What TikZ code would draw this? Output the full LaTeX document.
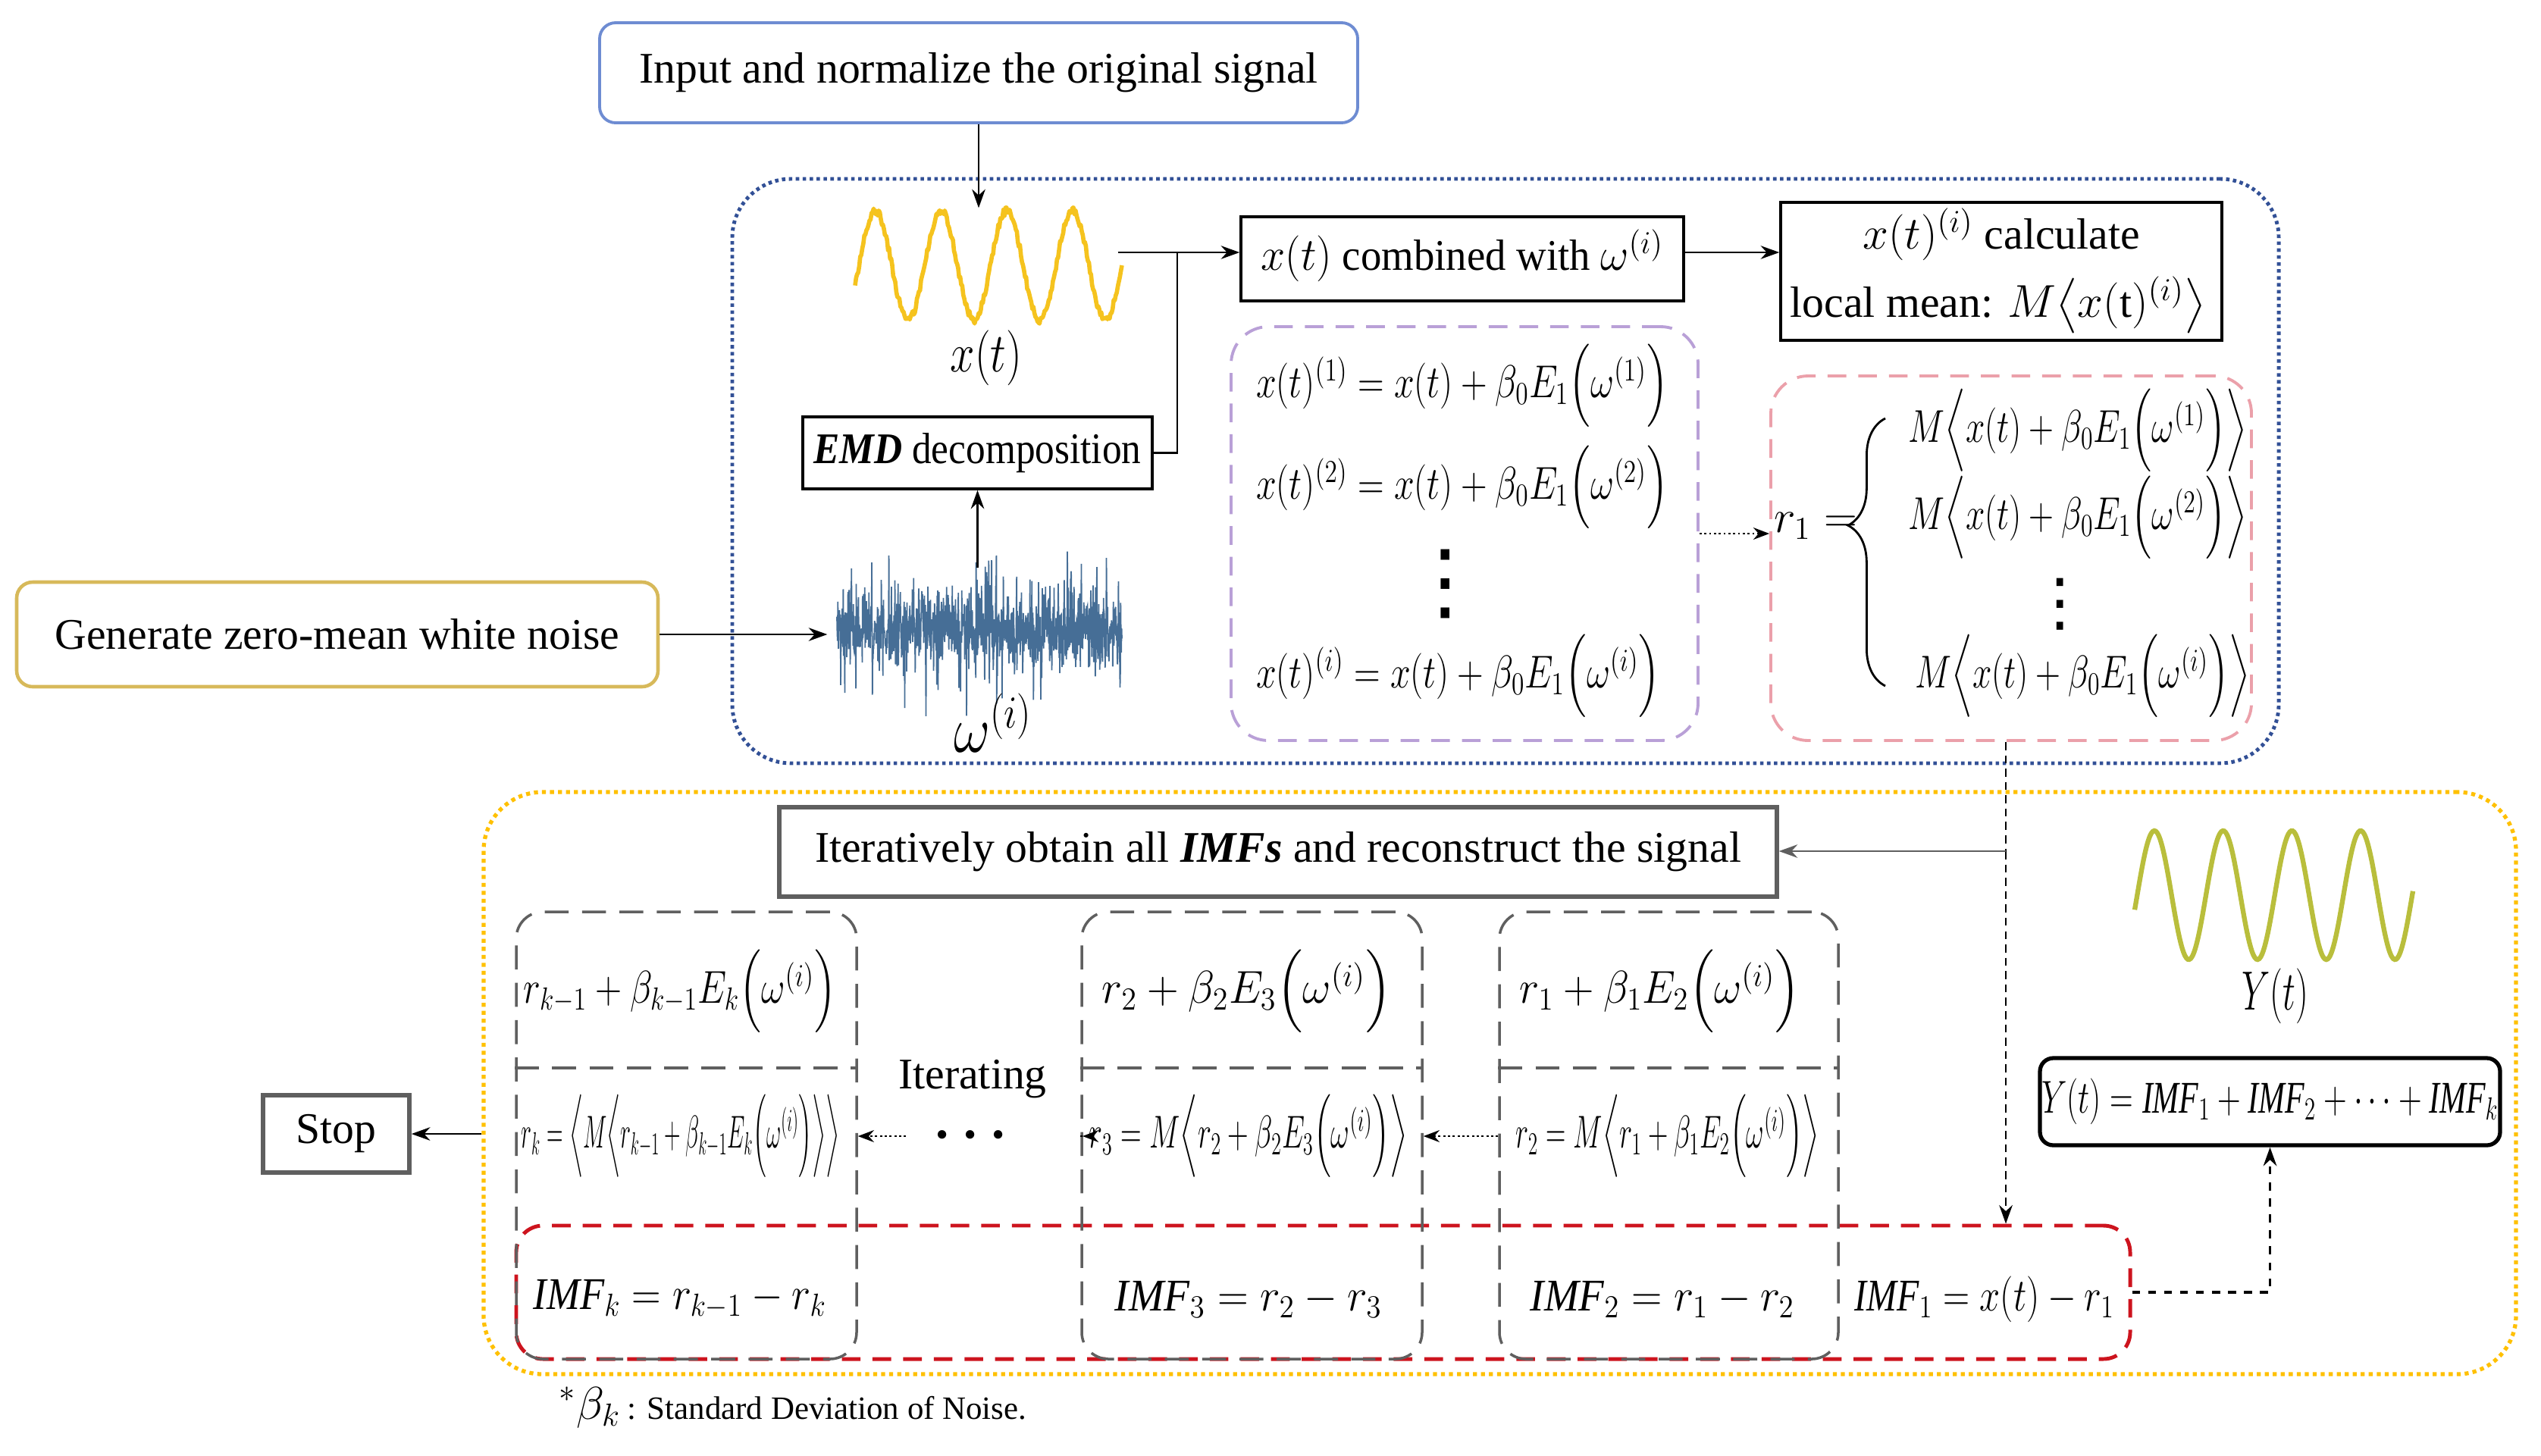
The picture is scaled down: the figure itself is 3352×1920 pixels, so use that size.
\documentclass[tikz,border=0pt]{standalone}
\usepackage{amsmath}
\usepackage{fontspec}
\setmainfont{Liberation Serif}
\newfontfamily\djv{DejaVu Sans}
\usetikzlibrary{arrows.meta,fit,decorations.pathreplacing,calc}
\definecolor{inblue}{RGB}{110,140,210}
\definecolor{dotblue}{RGB}{50,80,150}
\definecolor{gengold}{RGB}{215,185,90}
\definecolor{dotyellow}{RGB}{255,192,0}
\definecolor{purp}{RGB}{185,160,215}
\definecolor{pinkd}{RGB}{235,160,170}
\definecolor{redd}{RGB}{205,20,30}
\definecolor{grayd}{RGB}{95,95,95}
\definecolor{sigyellow}{RGB}{245,195,30}
\definecolor{noiseblue}{RGB}{70,110,150}
\definecolor{olivesig}{RGB}{185,190,60}
\newcommand\txt{\fontsize{16.4}{20}\selectfont}
\newcommand\mth{\fontsize{17}{20}\selectfont}
\newcommand\sq[2]{\scalebox{#1}[1]{#2}}
\tikzset{
  region/.style={inner sep=0pt},
  solidbox/.style={draw, line width=1pt, inner sep=0pt},
  arr/.style={-{Stealth[length=7pt,width=5pt]}, line width=0.7pt},
  dotarr/.style={-{Stealth[length=6pt,width=4.5pt]}, line width=0.8pt, densely dotted},
  coldash/.style={draw=grayd, line width=1pt, dash pattern=on 9pt off 5pt, rounded corners=10pt},
  lbl/.style={font=\txt, inner sep=1pt},
  eq/.style={font=\mth, inner sep=1pt},
}
\begin{document}
\begin{tikzpicture}[x=0.01cm,y=-0.01cm]
\useasboundingbox (0,0) rectangle (3352,1920);
\pgfmathsetseed{7}

% ---------- stage 1 ----------
\node[fit={(791,30)(1791,162)}, region, draw=inblue, line width=1.1pt, rounded corners=6pt] (input) {};
\node[lbl] at (input.center) {Input and normalize the original signal};

\node[fit={(966,236)(3006,1007)}, region, draw=dotblue, line width=1.4pt, dash pattern=on 1.3pt off 1.3pt, rounded corners=22pt] (stageone) {};

% x(t) signal
\node[fit={(1128,275)(1480,428)}, region] (xt) {};
\draw[sigyellow, line width=1.6pt, line join=round]
  plot[domain=1128:1480, samples=260] (\x, {350 - 72*sin(4.1522*(\x-1133)) + 5*rand});
\node[font=\fontsize{20}{22}\selectfont] (xtl) at (1301,472) {\sq{0.8}{$x(t)$}};
\draw[arr] (input.south) -- (input.south |- xt.north);

% noise
\node[fit={(1104,730)(1480,931)}, region] (noise) {};
\draw[noiseblue, line width=0.5pt]
  plot[domain=1104:1480, samples=900] (\x, {832 + 20*(rand+rand+rand) + 75*(rand)^5});
\node[font=\fontsize{23}{26}\selectfont] (wl) at (1310,954) {\sq{0.85}{$\omega^{(i)}$}};

% generate
\node[fit={(22,768)(868,906)}, region, draw=gengold, line width=1.3pt, rounded corners=6pt] (gen) {};
\node[lbl] at (gen.center) {Generate zero-mean white noise};
\draw[arr] (gen.east) -- ($(gen.east -| noise.west)+(-12,0)$);

% EMD
\node[fit={(1059,550)(1520,645)}, solidbox] (emd) {};
\node[lbl] at (emd.center) {\sq{0.89}{\textbf{\textit{EMD}} decomposition}};
\draw[arr] ($(emd.south |- noise.north)+(0,20)$) -- (emd.south);

% combined
\node[fit={(1637,286)(2221,397)}, solidbox] (comb) {};
\node[lbl] at ($(comb.center)+(0,-4)$) {\sq{0.95}{$x(t)$ combined with $\omega^{(i)}$}};
\coordinate (jone) at (1553,333);
\draw[line width=0.7pt] ($(xt.east |- jone)+(-6,0)$) -- (jone);
\draw[line width=0.7pt] (emd.east) -| (jone);
\draw[arr] (jone) -- (jone -| comb.west);

% calculate
\node[fit={(2349,267)(2931,449)}, solidbox] (calc) {};
\node[lbl, inner sep=0pt] (calca) at (2640,309) {$x(t)^{(i)}$ calculate};
\node[lbl, inner sep=0pt] (calcb) at (2636,402) {local mean: $M\bigl\langle x(\mathrm{t})^{(i)}\bigr\rangle$};
\draw[arr] (comb.east |- jone) -- (jone -| calc.west);

% purple box
\node[fit={(1624,431)(2240,977)}, region, draw=purp, line width=1.1pt, dash pattern=on 7pt off 4.5pt, rounded corners=14pt] (purpbox) {};
\node[eq, anchor=west] (pa) at (1653,509) {\sq{0.79}{$x(t)^{(1)} = x(t) + \beta_0 E_1\Bigl(\omega^{(1)}\Bigr)$}};
\node[eq, anchor=west] (pb) at (1653,643) {\sq{0.79}{$x(t)^{(2)} = x(t) + \beta_0 E_1\Bigl(\omega^{(2)}\Bigr)$}};
\node[font=\fontsize{32}{34}\selectfont\djv, inner sep=0pt] (pc) at (1907,770) {⋮};
\node[eq, anchor=west] (pd) at (1653,892) {\sq{0.79}{$x(t)^{(i)} = x(t) + \beta_0 E_1\Bigl(\omega^{(i)}\Bigr)$}};

% pink box
\node[fit={(2336,496)(2970,977)}, region, draw=pinkd, line width=1.1pt, dash pattern=on 7pt off 4.5pt, rounded corners=14pt] (pinkbox) {};
\draw[dotarr] (purpbox.east) -- (purpbox.east -| pinkbox.west);
\node[eq] (rone) at (2395,694) {$r_1 =$};
\draw[line width=0.8pt, decorate, decoration={brace, amplitude=14pt, aspect=0.6}] (2487,905) -- (2487,552);
\node[eq, anchor=west] (ma) at (2513,568) {\sq{0.75}{$M\Bigl\langle x(t)+\beta_0E_1\Bigl(\omega^{(1)}\Bigr)\Bigr\rangle$}};
\node[eq, anchor=west] (mb) at (2513,683) {\sq{0.75}{$M\Bigl\langle x(t)+\beta_0E_1\Bigl(\omega^{(2)}\Bigr)\Bigr\rangle$}};
\node[font=\fontsize{24}{26}\selectfont\djv, inner sep=0pt] (mc) at (2718,797) {⋮};
\node[eq, anchor=west] (md) at (2522,892) {\sq{0.75}{$M\Bigl\langle x(t)+\beta_0E_1\Bigl(\omega^{(i)}\Bigr)\Bigr\rangle$}};

% ---------- stage 2 ----------
\node[fit={(638,1045)(3319,1813)}, region, draw=dotyellow, line width=1.5pt, dash pattern=on 1.5pt off 1.5pt, rounded corners=22pt] (stagetwo) {};

\node[fit={(1028,1065)(2344,1183)}, region, draw=grayd, line width=1.5pt] (iter) {};
\node[lbl] at (iter.center) {Iteratively obtain all \textbf{\textit{IMFs}} and reconstruct the signal};

% red box
\node[fit={(681,1617)(2810,1793)}, region, draw=redd, line width=1.4pt, dash pattern=on 7pt off 4.5pt, rounded corners=10pt] (redbox) {};

% columns
\node[fit={(681,1203)(1130,1793)}, region, coldash] (cone) {};
\node[fit={(1427,1203)(1876,1793)}, region, coldash] (ctwo) {};
\node[fit={(1978,1203)(2425,1793)}, region, coldash] (cthree) {};
\foreach \c in {cone,ctwo,cthree}{
  \draw[draw=grayd, line width=1pt, dash pattern=on 9pt off 5pt] (\c.west |- 0,1409) -- (\c.east |- 0,1409);
}

% vertical connector from pink box
\coordinate (jv) at (2646,1123);
\draw[line width=0.7pt, densely dashed] (pinkbox.south -| jv) -- (jv);
\draw[arr, densely dashed] (jv) -- (jv |- redbox.north);
\draw[arr, draw=grayd] (jv) -- (iter.east |- jv);

% top row
\node[eq] (ta) at (897,1308) {\sq{0.80}{$r_{k-1}+\beta_{k-1}E_k\Bigl(\omega^{(i)}\Bigr)$}};
\node[eq] (tb) at (1645,1308) {\sq{0.95}{$r_2+\beta_2E_3\Bigl(\omega^{(i)}\Bigr)$}};
\node[eq] (tc) at (2190,1308) {\sq{0.92}{$r_1+\beta_1E_2\Bigl(\omega^{(i)}\Bigr)$}};

% middle row
\node[eq] (ma2) at (898,1499) {\sq{0.49}{$r_k=\Bigl\langle M\Bigl\langle r_{k-1}+\beta_{k-1}E_k\Bigl(\omega^{(i)}\Bigr)\Bigr\rangle\Bigr\rangle$}};
\node[eq] (mb2) at (1647,1499) {\sq{0.63}{$r_3=M\Bigl\langle r_2+\beta_2E_3\Bigl(\omega^{(i)}\Bigr)\Bigr\rangle$}};
\node[eq] (mc2) at (2200,1499) {\sq{0.60}{$r_2=M\Bigl\langle r_1+\beta_1E_2\Bigl(\omega^{(i)}\Bigr)\Bigr\rangle$}};

\node[lbl, inner sep=0pt] (iterating) at (1283,1424) {Iterating};
\node[font=\fontsize{22}{24}\selectfont, inner sep=0pt] (dots) at (1287,1498) {$\boldsymbol{\cdots}$};
\draw[dotarr] (cthree.west |- 0,1499) -- (ctwo.east |- 0,1499);
\draw[dotarr, shorten >=24pt] (ctwo.west |- 0,1499) -- (dots.east |- 0,1499);
\draw[dotarr, shorten <=10pt] (dots.west |- 0,1499) -- (cone.east |- 0,1499);

% bottom row
\node[eq] (ba) at (897,1714) {\sq{0.88}{$\mathit{IMF}_k = r_{k-1}-r_k$}};
\node[eq] (bb) at (1647,1714) {\sq{0.93}{$\mathit{IMF}_3 = r_2-r_3$}};
\node[eq] (bc) at (2193,1714) {\sq{0.92}{$\mathit{IMF}_2 = r_1-r_2$}};
\node[eq] (bd) at (2618,1714) {\sq{0.80}{$\mathit{IMF}_1 = x(t)-r_1$}};

% stop
\node[fit={(347,1445)(540,1547)}, region, draw=grayd, line width=1.6pt] (stop) {};
\node[lbl] at (stop.center) {Stop};
\draw[arr] (stagetwo.west |- stop.east) -- (stop.east);

% Y(t)
\node[fit={(2816,1094)(3183,1270)}, region] (ysig) {};
\draw[olivesig, line width=1.8pt]
  plot[domain=2816:3183, samples=200, smooth] (\x, {1181 - 85*sin(3.9691*(\x-2819.3))});
\node[font=\fontsize{20}{22}\selectfont] (yl) at (3001,1314) {\sq{0.65}{$Y(t)$}};
\node[fit={(2691,1396)(3298,1511)}, region, draw, line width=1.5pt, rounded corners=5pt] (ybox) {};
\node[eq] at (ybox.center) {\sq{0.70}{$Y(t)=\mathit{IMF}_1+\mathit{IMF}_2+\cdots+\mathit{IMF}_k$}};
\draw[arr, dashed, line width=0.9pt] (redbox.east) -| (ybox.south);

% footnote
\node[anchor=base west, inner sep=0pt] (foot) at (737,1872) {{\fontsize{17}{19}\selectfont$^{*}\beta_k$} {\fontsize{12.2}{14}\selectfont: Standard Deviation of Noise.}};
\end{tikzpicture}
\end{document}
